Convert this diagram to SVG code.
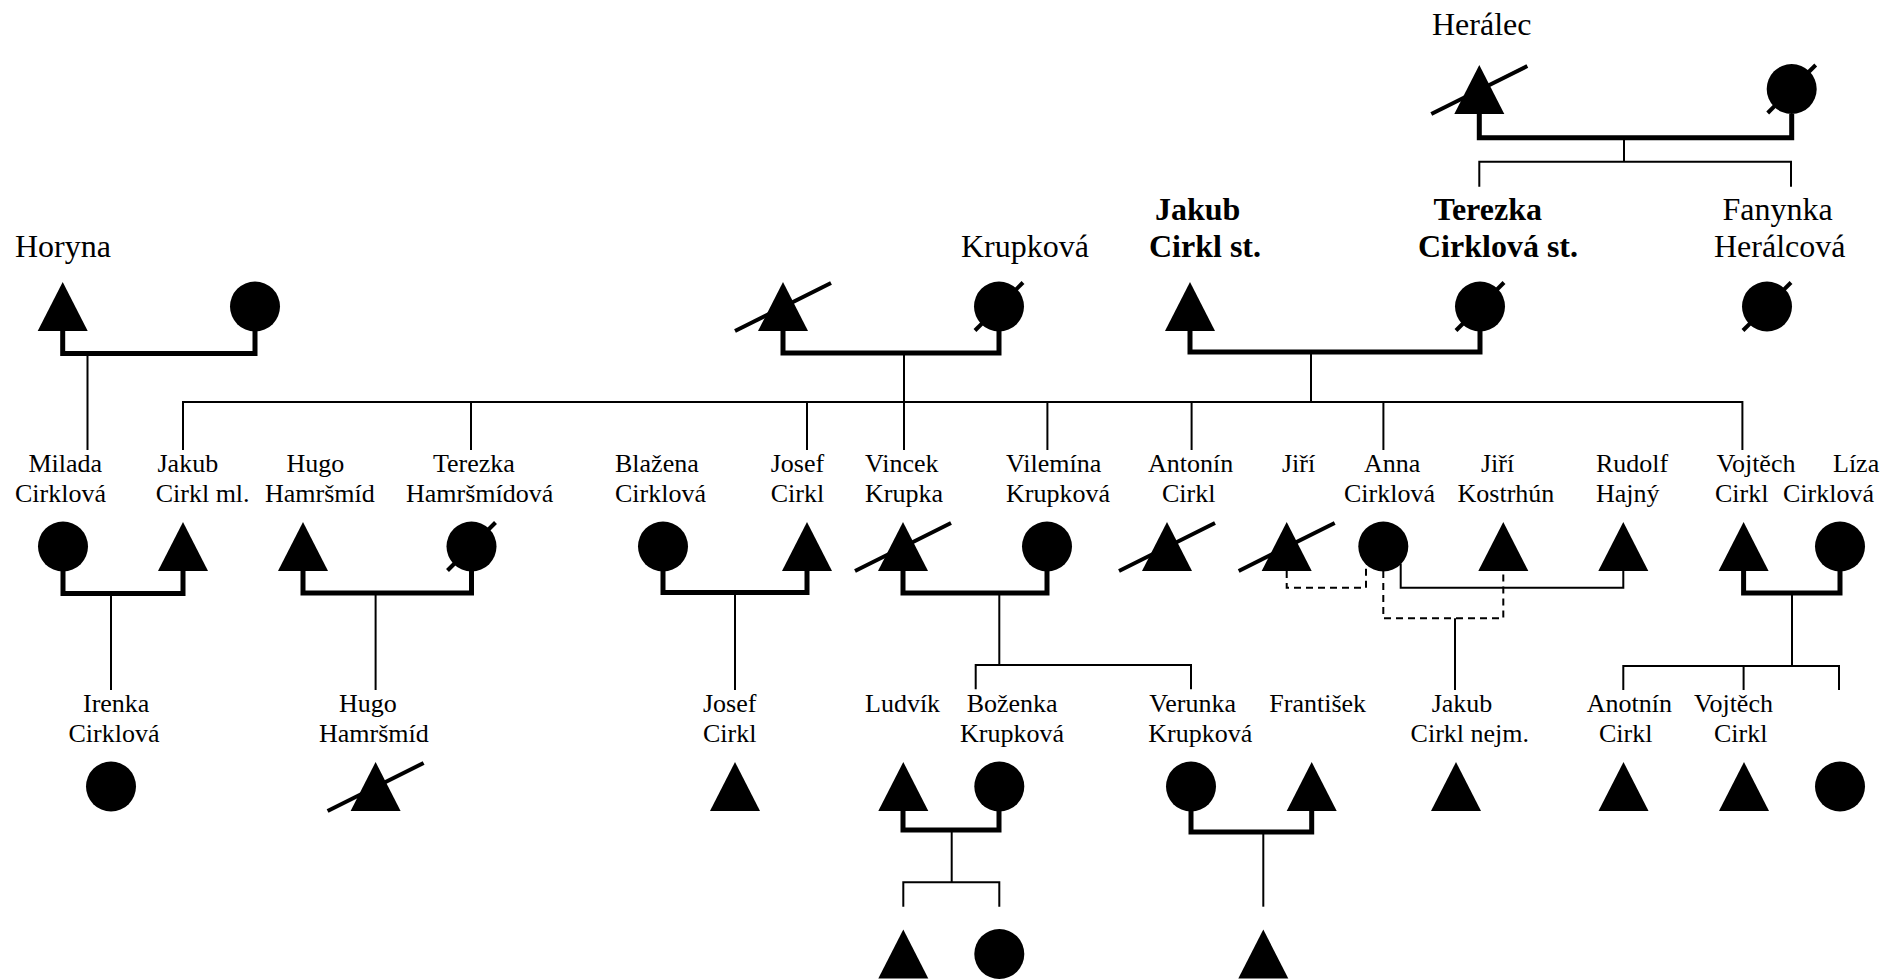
<svg xmlns="http://www.w3.org/2000/svg" xmlns:xlink="http://www.w3.org/1999/xlink" width="1886" height="979" viewBox="0 0 1886 979">
<style>
  text { font-family: "Liberation Serif", "Times New Roman", serif; fill: #000; }
  .big { font-size: 32px; }
  .bold { font-size: 32px; font-weight: bold; }
  .lbl { font-size: 26px; }
  .m { fill: none; stroke: #000; stroke-width: 5; stroke-linejoin: miter; }
  .l { fill: none; stroke: #000; stroke-width: 2; }
  .d { fill: none; stroke: #000; stroke-width: 2; stroke-dasharray: 7 5; }
  .s { stroke: #000; stroke-width: 4; }
  .shape { fill: #000; }
</style>
<defs>
  <path id="tri" d="M0,0 L25,49 L-25,49 Z"/>
  <circle id="cir" cx="0" cy="24.5" r="25"/>
  <line id="triX" x1="-48" y1="49" x2="48" y2="1"/>
  <line id="cirX" x1="-24" y1="48.5" x2="24" y2="0.5"/>
</defs>

<g id="connectors">
  <!-- marriage lines -->
  <polyline class="m" points="1479.3,114 1479.3,137.7 1791.7,137.7 1791.7,114"/>
  <polyline class="m" points="62.7,331 62.7,353.5 255,353.5 255,331"/>
  <polyline class="m" points="783,331 783,353 999,353 999,331"/>
  <polyline class="m" points="1190,331 1190,352 1480,352 1480,331"/>
  <polyline class="m" points="63,571 63,593.5 183,593.5 183,571"/>
  <polyline class="m" points="303,571 303,593 471.5,593 471.5,571"/>
  <polyline class="m" points="663,571 663,592.5 807,592.5 807,571"/>
  <polyline class="m" points="903,571 903,593 1047,593 1047,571"/>
  <polyline class="m" points="1743.6,571 1743.6,593 1840,593 1840,571"/>
  <polyline class="m" points="903,811 903,830 999,830 999,811"/>
  <polyline class="m" points="1191,811 1191,832 1311.7,832 1311.7,811"/>

  <!-- descent / sibling lines -->
  <line class="l" x1="1624" y1="137.7" x2="1624" y2="161.7"/>
  <polyline class="l" points="1479.3,186.7 1479.3,161.7 1791,161.7 1791,186.7"/>

  <line class="l" x1="87.5" y1="353.5" x2="87.5" y2="450"/>
  <line class="l" x1="904" y1="353" x2="904" y2="450"/>
  <line class="l" x1="1311" y1="352" x2="1311" y2="402"/>
  <polyline class="l" points="183,450 183,402 1742.4,402 1742.4,450"/>
  <line class="l" x1="471" y1="402" x2="471" y2="450"/>
  <line class="l" x1="807" y1="402" x2="807" y2="450"/>
  <line class="l" x1="1047.4" y1="402" x2="1047.4" y2="450"/>
  <line class="l" x1="1191.6" y1="402" x2="1191.6" y2="450"/>
  <line class="l" x1="1383.4" y1="402" x2="1383.4" y2="450"/>

  <line class="l" x1="111" y1="593.5" x2="111" y2="690"/>
  <line class="l" x1="375.6" y1="593" x2="375.6" y2="690"/>
  <line class="l" x1="735" y1="592.5" x2="735" y2="690"/>

  <line class="l" x1="999.3" y1="593" x2="999.3" y2="665"/>
  <polyline class="l" points="975.7,689.3 975.7,665 1191,665 1191,689.3"/>

  <polyline class="d" points="1286.7,571 1286.7,587.7 1366,587.7 1366,564"/>
  <polyline class="l" points="1400.7,564 1400.7,587.7 1623.3,587.7 1623.3,571"/>
  <polyline class="d" points="1383.3,571 1383.3,618.3 1503.3,618.3 1503.3,571"/>
  <line class="l" x1="1455" y1="618.3" x2="1455" y2="690"/>

  <line class="l" x1="1792" y1="593" x2="1792" y2="666"/>
  <polyline class="l" points="1623.3,690 1623.3,666 1839,666 1839,690"/>
  <line class="l" x1="1743.6" y1="666" x2="1743.6" y2="690"/>

  <line class="l" x1="951.7" y1="830" x2="951.7" y2="882.3"/>
  <polyline class="l" points="903.3,906.7 903.3,882.3 999.3,882.3 999.3,906.7"/>
  <line class="l" x1="1263.3" y1="832" x2="1263.3" y2="906.7"/>
</g>

<!-- Generation 0 -->
<g id="heralec">
  <text class="big" x="1432" y="35">Herálec</text>
  <use href="#tri" class="shape" x="1479.3" y="65"/>
  <use href="#triX" class="s" x="1479.3" y="65"/>
</g>
<g id="heralcova-matka">
  <use href="#cir" class="shape" x="1791.7" y="64.5"/>
  <use href="#cirX" class="s" x="1791.7" y="64.5"/>
</g>

<!-- Generation 1 -->
<g id="horyna">
  <text class="big" x="15" y="257">Horyna</text>
  <use href="#tri" class="shape" x="62.7" y="282"/>
</g>
<g id="horynova">
  <use href="#cir" class="shape" x="255" y="282"/>
</g>
<g id="krupka">
  <use href="#tri" class="shape" x="783" y="282"/>
  <use href="#triX" class="s" x="783" y="282"/>
</g>
<g id="krupkova">
  <text class="big" x="961" y="257">Krupková</text>
  <use href="#cir" class="shape" x="999" y="282"/>
  <use href="#cirX" class="s" x="999" y="282"/>
</g>
<g id="jakub-st">
  <text class="bold" x="1155" y="220">Jakub</text>
  <text class="bold" x="1149" y="257">Cirkl st.</text>
  <use href="#tri" class="shape" x="1190" y="282"/>
</g>
<g id="terezka-st">
  <text class="bold" x="1433.5" y="220">Terezka</text>
  <text class="bold" x="1418" y="257">Cirklová st.</text>
  <use href="#cir" class="shape" x="1480" y="282"/>
  <use href="#cirX" class="s" x="1480" y="282"/>
</g>
<g id="fanynka">
  <text class="big" x="1722.5" y="220">Fanynka</text>
  <text class="big" x="1714" y="257">Herálcová</text>
  <use href="#cir" class="shape" x="1767" y="282"/>
  <use href="#cirX" class="s" x="1767" y="282"/>
</g>

<!-- Generation 2 -->
<g id="milada">
  <text class="lbl" x="28.5" y="472">Milada</text>
  <text class="lbl" x="15" y="502">Cirklová</text>
  <use href="#cir" class="shape" x="63" y="522"/>
</g>
<g id="jakub-ml">
  <text class="lbl" x="157.5" y="472">Jakub</text>
  <text class="lbl" x="155.7" y="502">Cirkl ml.</text>
  <use href="#tri" class="shape" x="183" y="522"/>
</g>
<g id="hugo">
  <text class="lbl" x="286.6" y="472">Hugo</text>
  <text class="lbl" x="265" y="502">Hamršmíd</text>
  <use href="#tri" class="shape" x="303" y="522"/>
</g>
<g id="terezka-h">
  <text class="lbl" x="433" y="472">Terezka</text>
  <text class="lbl" x="406" y="502">Hamršmídová</text>
  <use href="#cir" class="shape" x="471.5" y="522"/>
  <use href="#cirX" class="s" x="471.5" y="522"/>
</g>
<g id="blazena">
  <text class="lbl" x="615" y="472">Blažena</text>
  <text class="lbl" x="615" y="502">Cirklová</text>
  <use href="#cir" class="shape" x="663" y="522"/>
</g>
<g id="josef">
  <text class="lbl" x="770.7" y="472">Josef</text>
  <text class="lbl" x="770.7" y="502">Cirkl</text>
  <use href="#tri" class="shape" x="807" y="522"/>
</g>
<g id="vincek">
  <text class="lbl" x="865" y="472">Vincek</text>
  <text class="lbl" x="865" y="502">Krupka</text>
  <use href="#tri" class="shape" x="903" y="522"/>
  <use href="#triX" class="s" x="903" y="522"/>
</g>
<g id="vilemina">
  <text class="lbl" x="1006" y="472">Vilemína</text>
  <text class="lbl" x="1006" y="502">Krupková</text>
  <use href="#cir" class="shape" x="1047" y="522"/>
</g>
<g id="antonin">
  <text class="lbl" x="1148" y="472">Antonín</text>
  <text class="lbl" x="1162" y="502">Cirkl</text>
  <use href="#tri" class="shape" x="1167" y="522"/>
  <use href="#triX" class="s" x="1167" y="522"/>
</g>
<g id="jiri">
  <text class="lbl" x="1282" y="472">Jiří</text>
  <use href="#tri" class="shape" x="1286.7" y="522"/>
  <use href="#triX" class="s" x="1286.7" y="522"/>
</g>
<g id="anna">
  <text class="lbl" x="1364" y="472">Anna</text>
  <text class="lbl" x="1344" y="502">Cirklová</text>
  <use href="#cir" class="shape" x="1383.3" y="522"/>
</g>
<g id="jiri-kostrhun">
  <text class="lbl" x="1481" y="472">Jiří</text>
  <text class="lbl" x="1457.6" y="502">Kostrhún</text>
  <use href="#tri" class="shape" x="1503.3" y="522"/>
</g>
<g id="rudolf">
  <text class="lbl" x="1596" y="472">Rudolf</text>
  <text class="lbl" x="1596" y="502">Hajný</text>
  <use href="#tri" class="shape" x="1623.3" y="522"/>
</g>
<g id="vojtech">
  <text class="lbl" x="1716.5" y="472">Vojtěch</text>
  <text class="lbl" x="1715" y="502">Cirkl</text>
  <use href="#tri" class="shape" x="1743.6" y="522"/>
</g>
<g id="liza">
  <text class="lbl" x="1833" y="472">Líza</text>
  <text class="lbl" x="1783" y="502">Cirklová</text>
  <use href="#cir" class="shape" x="1840" y="522"/>
</g>

<!-- Generation 3 -->
<g id="irenka">
  <text class="lbl" x="83" y="712">Irenka</text>
  <text class="lbl" x="68.5" y="742">Cirklová</text>
  <use href="#cir" class="shape" x="111" y="762"/>
</g>
<g id="hugo-jr">
  <text class="lbl" x="339" y="712">Hugo</text>
  <text class="lbl" x="319" y="742">Hamršmíd</text>
  <use href="#tri" class="shape" x="375.6" y="762"/>
  <use href="#triX" class="s" x="375.6" y="762"/>
</g>
<g id="josef-jr">
  <text class="lbl" x="703" y="712">Josef</text>
  <text class="lbl" x="703" y="742">Cirkl</text>
  <use href="#tri" class="shape" x="735" y="762"/>
</g>
<g id="ludvik">
  <text class="lbl" x="865" y="712">Ludvík</text>
  <use href="#tri" class="shape" x="903.3" y="762"/>
</g>
<g id="bozenka">
  <text class="lbl" x="966.7" y="712">Boženka</text>
  <text class="lbl" x="960" y="742">Krupková</text>
  <use href="#cir" class="shape" x="999.3" y="762"/>
</g>
<g id="verunka">
  <text class="lbl" x="1149.3" y="712">Verunka</text>
  <text class="lbl" x="1148.3" y="742">Krupková</text>
  <use href="#cir" class="shape" x="1191" y="762"/>
</g>
<g id="frantisek">
  <text class="lbl" x="1269.3" y="712">František</text>
  <use href="#tri" class="shape" x="1311.7" y="762"/>
</g>
<g id="jakub-nejm">
  <text class="lbl" x="1431.7" y="712">Jakub</text>
  <text class="lbl" x="1410.6" y="742">Cirkl nejm.</text>
  <use href="#tri" class="shape" x="1456" y="762"/>
</g>
<g id="anotnin">
  <text class="lbl" x="1586.8" y="712">Anotnín</text>
  <text class="lbl" x="1599" y="742">Cirkl</text>
  <use href="#tri" class="shape" x="1623.5" y="762"/>
</g>
<g id="vojtech-jr">
  <text class="lbl" x="1694" y="712">Vojtěch</text>
  <text class="lbl" x="1714" y="742">Cirkl</text>
  <use href="#tri" class="shape" x="1744" y="762"/>
</g>
<g id="dcera-vojtecha">
  <use href="#cir" class="shape" x="1840" y="762"/>
</g>

<!-- Generation 4 -->
<g id="syn-ludvika">
  <use href="#tri" class="shape" x="903.3" y="929.5"/>
</g>
<g id="dcera-ludvika">
  <use href="#cir" class="shape" x="999.3" y="929.5"/>
</g>
<g id="syn-verunky">
  <use href="#tri" class="shape" x="1263.3" y="929.5"/>
</g>
</svg>
